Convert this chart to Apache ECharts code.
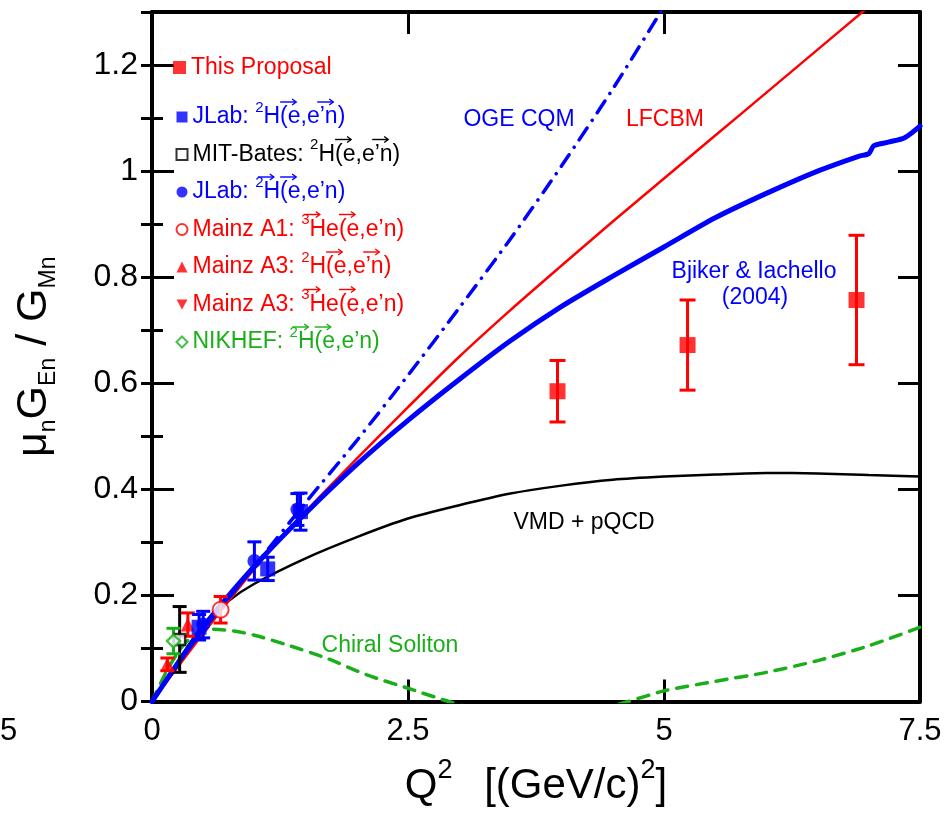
<!DOCTYPE html>
<html>
<head>
<meta charset="utf-8">
<script src="https://cdn.jsdelivr.net/npm/echarts@6/dist/echarts.min.js"></script>
<style>
    html, body { margin: 0; padding: 0; background: #fff; }
    #main { width: 950px; height: 821px; }
</style>
</head>
<body>
<div id="main"></div>
<script>
// 数据点 (Q2, 值, 误差)
const propQ2 = [3.96, 5.23, 6.88];
const propVal = [0.585, 0.672, 0.757];
const propErr = [0.058, 0.085, 0.122];

const jlabNQ2 = [0.46, 1.13, 1.45];
const jlabNVal = [0.14, 0.25, 0.358];
const jlabNErr = [0.024, 0.022, 0.035];

const jlabDQ2 = [0.5, 1.0, 1.42];
const jlabDVal = [0.145, 0.265, 0.362];
const jlabDErr = [0.025, 0.036, 0.03];

const batesQ2 = [0.27];
const batesVal = [0.117];
const batesErr = [0.062];

const mainzA1Q2 = [0.67];
const mainzA1Val = [0.173];
const mainzA1Err = [0.025];

const mainzA3dQ2 = [0.15, 0.35];
const mainzA3dVal = [0.07, 0.145];
const mainzA3dErr = [0.012, 0.022];

const mainzA3heQ2 = [];
const mainzA3heVal = [];

const nikhefQ2 = [0.21];
const nikhefVal = [0.114];
const nikhefErr = [0.024];

// 理论曲线
const ogeQ2 = [0, 0.25, 0.5, 1, 1.5, 2, 2.5, 3, 3.5, 4, 4.5, 5, 5.2];
const ogeVal = [0, 0.07, 0.135, 0.255, 0.375, 0.492, 0.615, 0.742, 0.872, 1.01, 1.155, 1.31, 1.37];

const lfcQ2 = [0, 0.5, 1, 1.5, 2, 2.5, 3, 3.5, 4, 4.5, 5, 5.5, 6, 6.5, 7, 7.5];
const lfcVal = [0, 0.128, 0.25, 0.358, 0.458, 0.555, 0.65, 0.738, 0.822, 0.905, 0.986, 1.067, 1.148, 1.229, 1.31, 1.39];

const bjQ2 = [0, 0.5, 1, 1.5, 2, 2.5, 3, 3.5, 4, 4.5, 5, 5.5, 6, 6.5, 6.9, 7.0, 7.05, 7.2, 7.35, 7.5];
const bjVal = [0, 0.14, 0.255, 0.355, 0.447, 0.53, 0.607, 0.68, 0.745, 0.802, 0.857, 0.912, 0.958, 1.0, 1.028, 1.033, 1.048, 1.055, 1.063, 1.085];

const vmdQ2 = [0, 0.25, 0.5, 0.75, 1, 1.5, 2, 2.5, 3, 3.5, 4, 4.5, 5, 5.5, 6, 6.5, 7, 7.5];
const vmdVal = [0, 0.075, 0.145, 0.19, 0.222, 0.27, 0.31, 0.345, 0.37, 0.392, 0.407, 0.418, 0.424, 0.428, 0.431, 0.43, 0.427, 0.424];

const chiralQ2 = [0, 0.15, 0.3, 0.45, 0.6, 0.8, 1.0, 1.3, 1.7, 2.1, 2.5, 2.9, 3.3, 3.8, 4.3, 4.65, 5.0, 5.5, 6.0, 6.5, 7.0, 7.5];
const chiralVal = [0, 0.06, 0.105, 0.13, 0.136, 0.133, 0.125, 0.108, 0.082, 0.05, 0.025, 0, -0.02, -0.03, -0.018, 0, 0.02, 0.038, 0.055, 0.077, 0.105, 0.14];

// 坐标轴刻度
const xTicks = [0, 2.5, 5, 7.5];
const yTicks = [0, 0.2, 0.4, 0.6, 0.8, 1, 1.2];

const RED = '#ff0000';
const BLUE = '#0000ff';
const GREEN = '#1aaf1a';
const FONT = 'Liberation Sans, Arial, sans-serif';

// 图例: t = 正文, s = 上标, a = 上方带矢量箭头的字母
const legendRows = [
    { name: 'JLab n', color: BLUE, parts: [['t', 'JLab: '], ['s', '2'], ['t', 'H('], ['a', 'e'], ['t', ',e’'], ['a', 'n'], ['t', ')']] },
    { name: 'MIT-Bates', color: '#000', parts: [['t', 'MIT-Bates: '], ['s', '2'], ['t', 'H('], ['a', 'e'], ['t', ',e’'], ['a', 'n'], ['t', ')']] },
    { name: 'JLab d', color: BLUE, parts: [['t', 'JLab: '], ['s', '2'], ['a', 'H'], ['t', '('], ['a', 'e'], ['t', ',e’n)']] },
    { name: 'Mainz A1', color: RED, parts: [['t', 'Mainz A1: '], ['s', '3'], ['a', 'H'], ['t', 'e('], ['a', 'e'], ['t', ',e’n)']] },
    { name: 'Mainz A3 d', color: RED, parts: [['t', 'Mainz A3: '], ['s', '2'], ['t', 'H('], ['a', 'e'], ['t', ',e’'], ['a', 'n'], ['t', ')']] },
    { name: 'Mainz A3 he', color: RED, parts: [['t', 'Mainz A3: '], ['s', '3'], ['a', 'H'], ['t', 'e('], ['a', 'e'], ['t', ',e’n)']] },
    { name: 'NIKHEF', color: GREEN, parts: [['t', 'NIKHEF: '], ['s', '2'], ['a', 'H'], ['t', '('], ['a', 'e'], ['t', ',e’n)']] }
];

const LEG_LEFT = 170.5;
const LEG_ICON = 11;
const LEG_TOP = 95;
const LEG_STEP = 37.5;
const LEG_FONT = 23;
const SUP_FONT = 15;

const measureCtx = document.createElement('canvas').getContext('2d');
function textWidth(str, size) {
    measureCtx.font = size + 'px "Liberation Sans"';
    return measureCtx.measureText(str).width;
}

function richOf(parts) {
    return parts.map(p => '{' + (p[0] === 's' ? 's' : 't') + '|' + p[1] + '}').join('');
}

function vecArrow(x, y, color) {
    const st = { stroke: color, lineWidth: 1.4, fill: null };
    return {
        type: 'group', silent: true,
        children: [
            { type: 'line', shape: { x1: x - 8, y1: y, x2: x + 8, y2: y }, style: st },
            { type: 'polyline', shape: { points: [[x + 4, y - 3], [x + 8, y], [x + 4, y + 3]] }, style: st }
        ]
    };
}

// 字母上方的矢量箭头
function legendArrows() {
    const out = [];
    legendRows.forEach((row, i) => {
        let x = LEG_LEFT + LEG_ICON + 5;
        const yc = LEG_TOP + 20 + i * LEG_STEP;
        row.parts.forEach(p => {
            const w = textWidth(p[1], p[0] === 's' ? SUP_FONT : LEG_FONT);
            if (p[0] === 'a') {
                out.push(vecArrow(x + w / 2, yc - 13, row.color));
            }
            x += w;
        });
    });
    return out;
}

function pairs(xs, ys) {
    return xs.map((x, i) => [x, ys[i]]);
}

function curve(name, xs, ys, color, width, type) {
    return {
        name: name,
        type: 'line',
        data: pairs(xs, ys),
        smooth: 0.25,
        showSymbol: false,
        clip: true,
        lineStyle: { color: color, width: width, type: type || 'solid', cap: 'round' },
        z: 2,
        silent: true
    };
}

function errorBars(name, xs, ys, errs, color, width, capW) {
    return {
        name: name,
        type: 'custom',
        data: xs.map((x, i) => [x, ys[i], errs[i]]),
        renderItem: function (params, api) {
            const x = api.value(0);
            const y = api.value(1);
            const e = api.value(2);
            const top = api.coord([x, y + e]);
            const bot = api.coord([x, y - e]);
            const st = { stroke: color, lineWidth: width };
            return {
                type: 'group',
                children: [
                    { type: 'line', shape: { x1: top[0], y1: top[1], x2: bot[0], y2: bot[1] }, style: st },
                    { type: 'line', shape: { x1: top[0] - capW / 2, y1: top[1], x2: top[0] + capW / 2, y2: top[1] }, style: st },
                    { type: 'line', shape: { x1: bot[0] - capW / 2, y1: bot[1], x2: bot[0] + capW / 2, y2: bot[1] }, style: st }
                ]
            };
        },
        z: 4,
        silent: true
    };
}

function points(name, xs, ys, symbol, size, itemStyle) {
    return {
        name: name,
        type: 'scatter',
        data: pairs(xs, ys),
        symbol: symbol,
        symbolSize: size,
        itemStyle: itemStyle,
        z: 5
    };
}

const chart = echarts.init(document.getElementById('main'));

const yAxisBase = {
    type: 'value', min: 0, max: 1.3, interval: 0.2,
    splitLine: { show: false },
    axisLine: { show: true, onZero: false, lineStyle: { color: '#000', width: 4 } },
    axisTick: { inside: true, length: 22, lineStyle: { color: '#000', width: 3 } },
    axisLabel: { show: false }
};
const yMinorBase = {
    type: 'value', min: 0, max: 1.3, interval: 0.1,
    splitLine: { show: false },
    axisLine: { show: false },
    axisTick: { inside: true, length: 11, lineStyle: { color: '#000', width: 3 } },
    axisLabel: { show: false }
};

const annotations = [
    { text: 'OGE CQM', x: 519, y: 120, color: BLUE },
    { text: 'LFCBM', x: 665, y: 120, color: RED },
    { text: 'Bjiker & Iachello', x: 754, y: 272, color: BLUE },
    { text: '(2004)', x: 755, y: 298, color: BLUE },
    { text: 'VMD + pQCD', x: 584, y: 523, color: '#000' },
    { text: 'Chiral Soliton', x: 390, y: 646, color: GREEN }
];

chart.setOption({
    animation: false,
    backgroundColor: '#fff',
    grid: { left: 150, right: 30, top: 12, bottom: 117, containLabel: false },
    xAxis: [
        {
            type: 'value', min: 0, max: 7.5, interval: 2.5, position: 'bottom',
            splitLine: { show: false },
            axisLine: { onZero: false, lineStyle: { color: '#000', width: 4 } },
            axisTick: { inside: true, length: 22, lineStyle: { color: '#000', width: 3 } },
            axisLabel: {
                margin: 14, color: '#000', fontSize: 31, fontFamily: FONT,
                formatter: v => (xTicks.indexOf(v) >= 0 ? String(v) : '')
            },
            name: '{m|Q}{s1|2}{m| [(GeV/c)}{s|2}{m|]}',
            nameLocation: 'middle',
            nameGap: 62,
            nameTextStyle: {
                color: '#000', fontFamily: FONT,
                rich: {
                    m: { fontSize: 42, lineHeight: 46, fontFamily: FONT, color: '#000' },
                    s: { fontSize: 27, lineHeight: 46, fontFamily: FONT, color: '#000', padding: [0, 0, 32, 0] },
                    s1: { fontSize: 27, lineHeight: 46, fontFamily: FONT, color: '#000', padding: [0, 20, 32, 0] }
                }
            }
        },
        {
            type: 'value', min: 0, max: 7.5, interval: 2.5, position: 'top',
            splitLine: { show: false },
            axisLine: { onZero: false, lineStyle: { color: '#000', width: 4 } },
            axisTick: { inside: true, length: 22, lineStyle: { color: '#000', width: 3 } },
            axisLabel: { show: false }
        }
    ],
    yAxis: [
        Object.assign({}, yAxisBase, {
            position: 'left',
            axisLabel: {
                show: true, margin: 14, color: '#000', fontSize: 32, fontFamily: FONT,
                showMaxLabel: false,
                formatter: v => (yTicks.some(t => Math.abs(t - v) < 1e-6) ? String(Math.round(v * 10) / 10) : '')
            },
            name: '{m|\u03BC}{b|n}{m|G}{b|En}{m| / G}{b|Mn}',
            nameLocation: 'middle',
            nameRotate: 90,
            nameGap: 95,
            nameTextStyle: {
                color: '#000', fontFamily: FONT,
                rich: {
                    m: { fontSize: 43, lineHeight: 46, fontFamily: FONT, color: '#000' },
                    b: { fontSize: 23, lineHeight: 46, fontFamily: FONT, color: '#000', padding: [29, 0, 0, 0] }
                }
            }
        }),
        Object.assign({}, yAxisBase, { position: 'right' }),
        Object.assign({}, yMinorBase, { position: 'left' }),
        Object.assign({}, yMinorBase, { position: 'right' })
    ],
    legend: [
        {
            data: [{ name: 'This Proposal', icon: 'rect' }],
            left: 168, top: 51,
            itemWidth: 13, itemHeight: 13, itemGap: 0,
            selectedMode: false,
            textStyle: { color: RED, fontSize: LEG_FONT, fontFamily: FONT }
        },
        {
            data: legendRows.map(r => ({ name: r.name, textStyle: { color: r.color } })),
            orient: 'vertical',
            left: LEG_LEFT, top: LEG_TOP,
            itemWidth: LEG_ICON, itemHeight: LEG_ICON, itemGap: 3.5,
            selectedMode: false,
            formatter: name => richOf(legendRows.find(r => r.name === name).parts),
            textStyle: {
                fontSize: LEG_FONT, fontFamily: FONT,
                rich: {
                    t: { fontSize: LEG_FONT, lineHeight: 27, fontFamily: FONT },
                    s: { fontSize: SUP_FONT, lineHeight: 27, fontFamily: FONT, padding: [0, 0, 19, 0] }
                }
            }
        }
    ],
    graphic: [
        { type: 'text', left: 0, top: 716, style: { text: '5', fontSize: 31, fontFamily: FONT, fill: '#000' } }
    ].concat(annotations.map(a => ({
        type: 'text', x: a.x, y: a.y, silent: true,
        style: { text: a.text, fontSize: 23, fontFamily: FONT, fill: a.color, align: 'center', verticalAlign: 'middle' }
    }))).concat(legendArrows()),
    series: [
        curve('VMD + pQCD', vmdQ2, vmdVal, '#000', 2.5),
        curve('Chiral Soliton', chiralQ2, chiralVal, GREEN, 3.5, [11, 9]),
        curve('LFCBM', lfcQ2, lfcVal, RED, 2.5),
        curve('Bjiker & Iachello', bjQ2, bjVal, BLUE, 5),
        curve('OGE CQM', ogeQ2, ogeVal, BLUE, 3.5, [14, 9, 0.1, 9]),

        errorBars('err bates', batesQ2, batesVal, batesErr, '#000', 3, 14),
        errorBars('err nikhef', nikhefQ2, nikhefVal, nikhefErr, GREEN, 3, 14),
        errorBars('err a3d', mainzA3dQ2, mainzA3dVal, mainzA3dErr, RED, 3, 14),
        errorBars('err a1', mainzA1Q2, mainzA1Val, mainzA1Err, RED, 3, 14),
        errorBars('err jlab n', jlabNQ2, jlabNVal, jlabNErr, BLUE, 3, 14),
        errorBars('err jlab d', jlabDQ2, jlabDVal, jlabDErr, BLUE, 3, 14),
        errorBars('err proposal', propQ2, propVal, propErr, RED, 3, 16),

        points('MIT-Bates', batesQ2, batesVal, 'rect', 11, { color: '#fff', borderColor: '#000', borderWidth: 2.5 }),
        points('NIKHEF', nikhefQ2, nikhefVal, 'diamond', 13, { color: '#fff', borderColor: GREEN, borderWidth: 2.5 }),
        points('Mainz A3 d', mainzA3dQ2, mainzA3dVal, 'triangle', 14, { color: RED }),
        points('Mainz A3 he', mainzA3heQ2, mainzA3heVal, 'path://M0,0L10,0L5,9Z', 13, { color: RED }),
        points('Mainz A1', mainzA1Q2, mainzA1Val, 'emptyCircle', 16, { color: RED, borderColor: RED, borderWidth: 3 }),
        points('JLab d', jlabDQ2, jlabDVal, 'circle', 14, { color: BLUE }),
        points('JLab n', jlabNQ2, jlabNVal, 'rect', 15, { color: BLUE }),
        points('This Proposal', propQ2, propVal, 'rect', 16, { color: RED })
    ]
});
</script>
</body>
</html>
